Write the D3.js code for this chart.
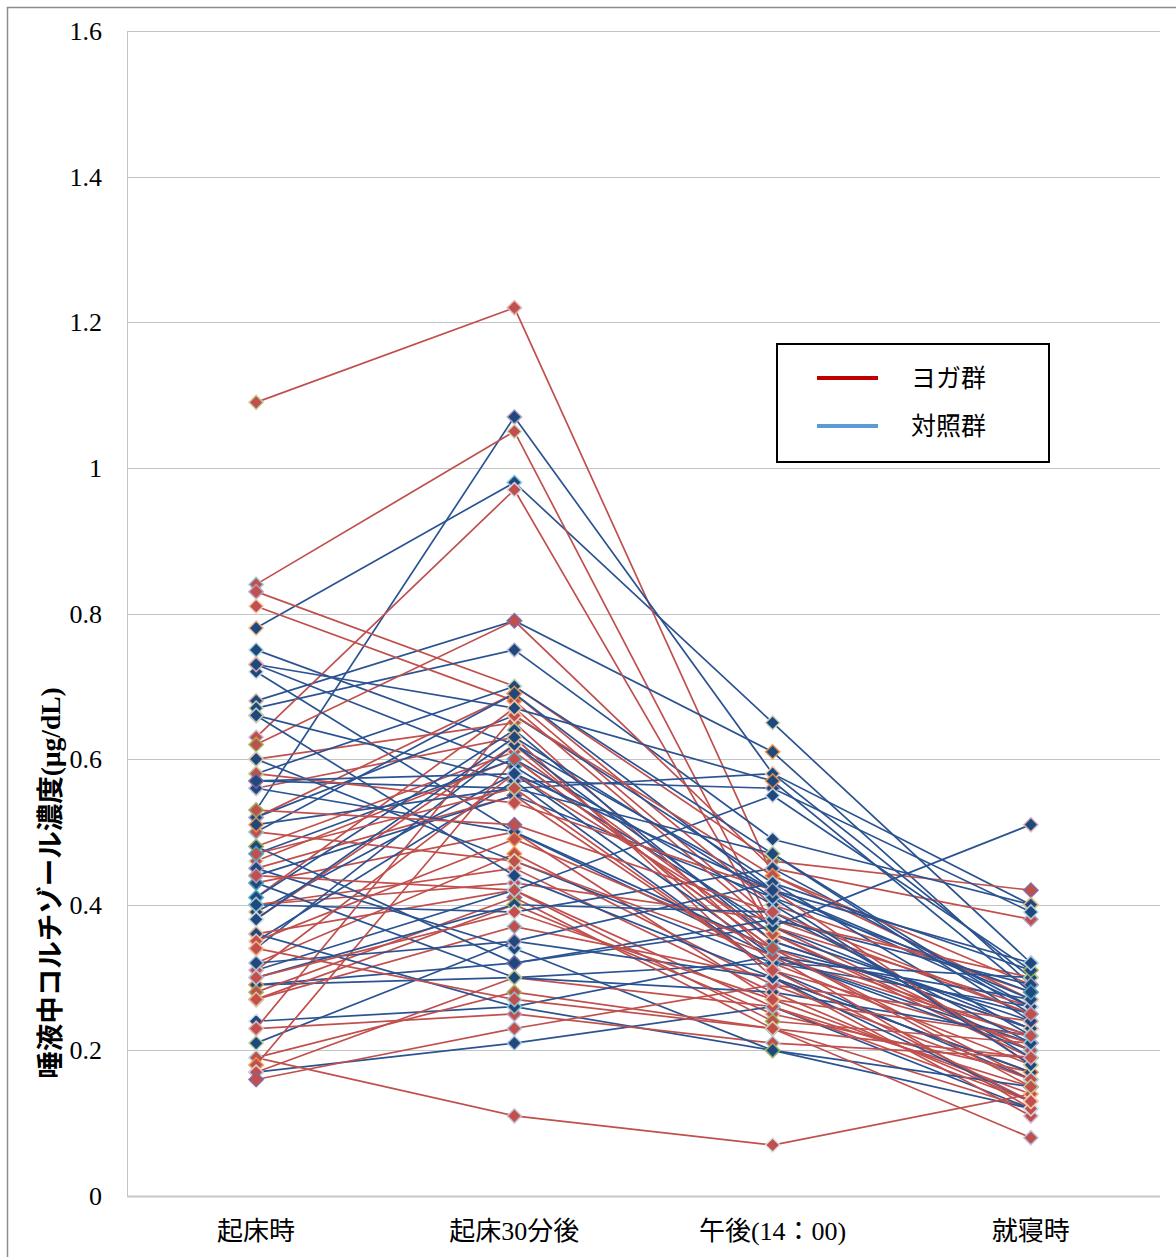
<!DOCTYPE html>
<head>
<meta charset="utf-8">
<title>唾液中コルチゾール濃度</title>
<script src="https://d3js.org/d3.v7.min.js"></script>
<style>
body {
  margin: 0;
  background: #fff;
  font-family: "Liberation Serif", "Noto Sans CJK JP", serif;
}
.grid line { stroke: #c4c4c4; stroke-width: 1px; }
.tick-label { font-size: 26px; fill: #000; }
.cat-label { font-size: 26px; fill: #000; }
.legend text { font-family: "Noto Sans CJK JP", sans-serif; font-size: 25px; fill: #000; }
</style>
</head>
<body>
<script>

// time points
const categories = ["起床時", "起床30分後", "午後(14：00)", "就寝時"];
const yTicks = [0, 0.2, 0.4, 0.6, 0.8, 1, 1.2, 1.4, 1.6];

// ヨガ群 (one entry per subject, per time point)
const yogaWake      = [1.09, 0.84, 0.83, 0.81, 0.63, 0.62, 0.60, 0.56, 0.52, 0.48, 0.46, 0.45, 0.43, 0.41, 0.40, 0.40, 0.38, 0.36, 0.32, 0.31, 0.28, 0.27, 0.27, 0.23, 0.23, 0.19, 0.19, 0.18, 0.17, 0.16, 0.58, 0.50, 0.44, 0.35, 0.30, 0.53, 0.47, 0.34];
const yogaWake30    = [1.22, 1.05, 0.70, 0.68, 0.97, 0.79, 0.65, 0.63, 0.69, 0.61, 0.60, 0.55, 0.50, 0.67, 0.43, 0.45, 0.62, 0.42, 0.47, 0.58, 0.41, 0.40, 0.37, 0.25, 0.66, 0.11, 0.28, 0.60, 0.30, 0.23, 0.54, 0.46, 0.42, 0.49, 0.39, 0.51, 0.56, 0.27];
const yogaAfternoon = [0.44, 0.37, 0.46, 0.38, 0.36, 0.45, 0.33, 0.30, 0.40, 0.35, 0.34, 0.31, 0.27, 0.37, 0.38, 0.28, 0.32, 0.26, 0.29, 0.36, 0.23, 0.25, 0.30, 0.21, 0.44, 0.07, 0.23, 0.34, 0.26, 0.29, 0.42, 0.33, 0.24, 0.34, 0.27, 0.39, 0.31, 0.23];
const yogaBedtime   = [0.27, 0.20, 0.42, 0.25, 0.19, 0.38, 0.22, 0.17, 0.28, 0.23, 0.16, 0.21, 0.14, 0.26, 0.30, 0.13, 0.18, 0.15, 0.24, 0.20, 0.12, 0.17, 0.11, 0.19, 0.29, 0.14, 0.08, 0.22, 0.13, 0.16, 0.18, 0.12, 0.21, 0.15, 0.22, 0.25, 0.13, 0.19];

// 対照群
const ctrlWake      = [0.78, 0.53, 0.68, 0.67, 0.75, 0.73, 0.72, 0.66, 0.57, 0.58, 0.52, 0.50, 0.47, 0.44, 0.41, 0.39, 0.35, 0.34, 0.31, 0.29, 0.29, 0.24, 0.17, 0.21, 0.40, 0.45, 0.60, 0.56, 0.48, 0.43, 0.36, 0.32, 0.73, 0.66, 0.30, 0.51, 0.38, 0.57];
const ctrlWake30    = [0.98, 1.07, 0.79, 0.75, 0.62, 0.59, 0.50, 0.57, 0.56, 0.70, 0.66, 0.69, 0.60, 0.55, 0.64, 0.58, 0.57, 0.62, 0.42, 0.30, 0.32, 0.26, 0.21, 0.35, 0.39, 0.34, 0.46, 0.50, 0.32, 0.30, 0.26, 0.35, 0.67, 0.44, 0.40, 0.56, 0.63, 0.58];
const ctrlAfternoon = [0.65, 0.58, 0.61, 0.49, 0.42, 0.37, 0.33, 0.56, 0.58, 0.47, 0.43, 0.42, 0.40, 0.41, 0.35, 0.33, 0.31, 0.36, 0.55, 0.32, 0.37, 0.20, 0.26, 0.30, 0.45, 0.20, 0.32, 0.34, 0.38, 0.28, 0.33, 0.43, 0.57, 0.30, 0.39, 0.47, 0.41, 0.42];
const ctrlBedtime   = [0.32, 0.40, 0.29, 0.40, 0.26, 0.23, 0.21, 0.39, 0.30, 0.25, 0.22, 0.27, 0.19, 0.28, 0.23, 0.20, 0.16, 0.24, 0.31, 0.26, 0.51, 0.12, 0.12, 0.17, 0.26, 0.15, 0.30, 0.25, 0.29, 0.22, 0.27, 0.31, 0.28, 0.13, 0.21, 0.24, 0.18, 0.32];

const legendLabels = ["ヨガ群", "対照群"];

const width = 1176,
  height = 1257;

const margin = {top: 31, right: 16, bottom: 61, left: 127};

const yogaLine = "#c0504d",
  ctrlLine = "#2b5391",
  ctrlFill = "#1f497d";

// Excel-ish automatic marker outline colours (mostly pale)
const borderColors = ["#fac090", "#c3d69b", "#b9cde5", "#93cddd", "#e6b9b8", "#b3a2c7",
  "#d7e4bd", "#fcd5b5", "#b7dee8", "#ccc1da", "#f79646", "#9bbb59", "#dbe5f1", "#4bacc6", "#8064a2"];

let svg = d3.select('body').append('svg')
  .attr('width', width)
  .attr('height', height);

// outer chart border (cut by the picture on right / bottom)
svg.append('rect')
  .attr('x', 7.5).attr('y', 7.5)
  .attr('width', width + 20).attr('height', height + 20)
  .attr('fill', 'none')
  .attr('stroke', '#8c8c8c')
  .attr('stroke-width', 1.5);

let x = d3.scaleBand()
  .domain(categories)
  .range([margin.left, width - margin.right])
  .paddingInner(0).paddingOuter(0);

let cx = d => x(d) + x.bandwidth() / 2;

let y = d3.scaleLinear()
  .domain([0, 1.6])
  .range([height - margin.bottom, margin.top]);

// gridlines
svg.append('g')
  .attr('class', 'grid')
  .selectAll('line')
  .data(yTicks.slice(1))
  .enter().append('line')
    .attr('x1', margin.left)
    .attr('x2', width - margin.right)
    .attr('y1', d => Math.round(y(d)) + 0.5)
    .attr('y2', d => Math.round(y(d)) + 0.5);

// left axis line and bottom axis line
svg.append('line')
  .attr('x1', margin.left + 0.5).attr('x2', margin.left + 0.5)
  .attr('y1', y(1.6)).attr('y2', y(0))
  .attr('stroke', '#c4c4c4');
svg.append('line')
  .attr('x1', margin.left).attr('x2', width - margin.right)
  .attr('y1', y(0) + 0.5).attr('y2', y(0) + 0.5)
  .attr('stroke', '#c8c8c8').attr('stroke-width', 2);

// y tick labels
svg.append('g')
  .selectAll('text')
  .data(yTicks)
  .enter().append('text')
    .attr('class', 'tick-label')
    .attr('x', 102)
    .attr('y', d => y(d))
    .attr('dy', '0.35em')
    .attr('text-anchor', 'end')
    .text(d => d3.format('')(d));

// category labels
svg.append('g')
  .selectAll('text')
  .data(categories)
  .enter().append('text')
    .attr('class', 'cat-label')
    .attr('x', d => cx(d))
    .attr('y', 1231)
    .attr('dy', '0.35em')
    .attr('text-anchor', 'middle')
    .text(d => d);

// y-axis title
svg.append('text')
  .attr('transform', 'translate(50,883) rotate(-90)')
  .attr('text-anchor', 'middle')
  .attr('dy', '0.35em')
  .style('font-size', '27.5px')
  .style('font-weight', 'bold')
  .style('font-family', '"Liberation Serif", "Noto Sans CJK JP", serif')
  .text('唾液中コルチゾール濃度(μg/dL)');

// build series from the arrays
function buildSeries(a, b, c, d, group) {
  return a.map((v, i) => ({group: group, idx: i, values: [a[i], b[i], c[i], d[i]]}));
}
let yoga = buildSeries(yogaWake, yogaWake30, yogaAfternoon, yogaBedtime, 'yoga');
let ctrl = buildSeries(ctrlWake, ctrlWake30, ctrlAfternoon, ctrlBedtime, 'ctrl');

// interleave so that neither group sits entirely on top
let series = [];
for (let i = 0; i < Math.max(yoga.length, ctrl.length); i++) {
  if (ctrl[i]) series.push(ctrl[i]);
  if (yoga[i]) series.push(yoga[i]);
}

let line = d3.line()
  .x((d, i) => cx(categories[i]))
  .y(d => y(d));

let diamond = d3.symbol().type(d3.symbolDiamond2).size(130);

let groups = svg.append('g')
  .selectAll('g')
  .data(series)
  .enter().append('g');

groups.append('path')
  .attr('d', d => line(d.values))
  .attr('fill', 'none')
  .attr('stroke', d => d.group === 'yoga' ? yogaLine : ctrlLine)
  .attr('stroke-width', 1.7);

groups.selectAll('path.mk')
  .data((d, k) => d.values.map((v, i) => ({v: v, i: i, s: d, k: k})))
  .enter().append('path')
    .attr('class', 'mk')
    .attr('d', diamond)
    .attr('transform', d => 'translate(' + cx(categories[d.i]) + ',' + y(d.v) + ')')
    .attr('fill', d => d.s.group === 'yoga' ? yogaLine : ctrlFill)
    .attr('stroke', d => borderColors[(d.k + d.i * 3) % borderColors.length])
    .attr('stroke-opacity', 0.85)
    .attr('stroke-width', 1.6);

// legend
let legend = svg.append('g').attr('class', 'legend');
legend.append('rect')
  .attr('x', 777).attr('y', 344)
  .attr('width', 272).attr('height', 118)
  .attr('fill', '#fff')
  .attr('stroke', '#000')
  .attr('stroke-width', 2);

let legendColors = ["#c00000", "#5b9bd5"];
legendLabels.forEach((lab, i) => {
  let ly = 378 + i * 48;
  legend.append('line')
    .attr('x1', 817).attr('x2', 878)
    .attr('y1', ly).attr('y2', ly)
    .attr('stroke', legendColors[i])
    .attr('stroke-width', 4);
  legend.append('text')
    .attr('x', 911)
    .attr('y', ly)
    .attr('dy', '0.35em')
    .text(lab);
});

</script>
</body>
